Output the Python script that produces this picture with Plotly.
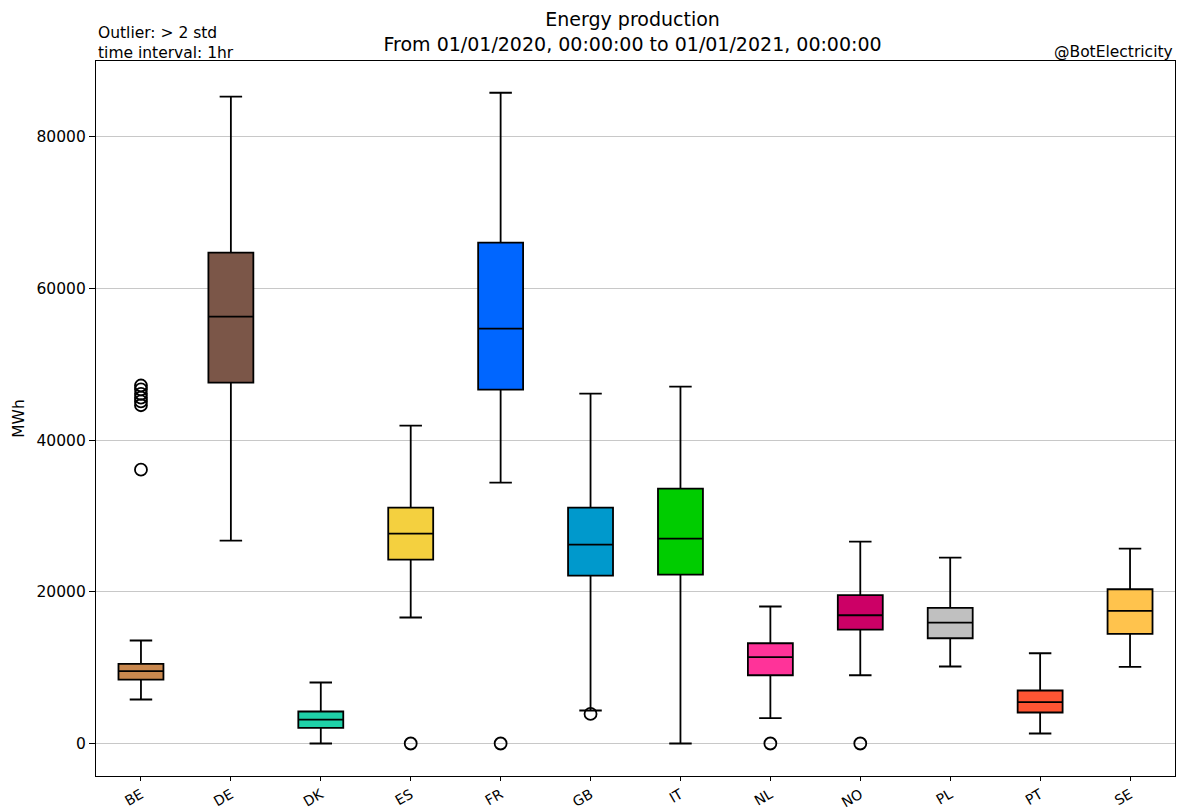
import plotly.graph_objects as go

countries = ["BE", "DE", "DK", "ES", "FR", "GB", "IT", "NL", "NO", "PL", "PT", "SE"]
q1 = [8430, 47580, 2070, 24250, 46660, 22140, 22270, 9000, 15020, 13880, 4090, 14460]
median = [9530, 56280, 3160, 27680, 54700, 26230, 27020, 11380, 16910, 15950, 5450, 17490]
q3 = [10500, 64710, 4220, 31100, 66030, 31100, 33610, 13220, 19550, 17890, 6990, 20340]
lower = [5800, 26760, 0, 16610, 34400, 4350, 0, 3340, 9000, 10150, 1320, 10110]
upper = [13580, 85280, 8040, 41910, 85800, 46130, 47050, 18060, 26620, 24520, 11900, 25700]
colors = ["#c9884e", "#7b5648", "#1fd1a8", "#f4d03f", "#0066ff", "#0099cc",
          "#00cc00", "#ff3399", "#cc0066", "#c0c0c0", "#ff5533", "#ffc34d"]

outlier_country = ["BE", "BE", "BE", "BE", "BE", "BE", "BE", "ES", "FR", "GB", "NL", "NO"]
outlier_value = [36100, 44600, 45100, 45600, 46100, 46700, 47200, 0, 0, 3900, 0, 0]

fig = go.Figure()
for i, c in enumerate(countries):
    fig.add_trace(go.Box(
        x=[c], q1=[q1[i]], median=[median[i]], q3=[q3[i]],
        lowerfence=[lower[i]], upperfence=[upper[i]],
        fillcolor=colors[i], line=dict(color="black", width=1.8),
        width=0.5, whiskerwidth=0.5, boxpoints=False, showlegend=False,
        hoverinfo="y"))

fig.add_trace(go.Scatter(
    x=outlier_country, y=outlier_value, mode="markers",
    marker=dict(symbol="circle-open", size=12, color="black", line=dict(width=1.8)),
    showlegend=False))

fig.update_layout(
    width=1178, height=810,
    margin=dict(l=96, r=3, t=61, b=34),
    paper_bgcolor="white", plot_bgcolor="white",
    font=dict(family="DejaVu Sans", size=15.5, color="black"),
    boxmode="overlay",
    title=dict(text="Energy production<br>From 01/01/2020, 00:00:00 to 01/01/2021, 00:00:00",
               x=0.537, xanchor="center", xref="container",
               y=1 - 26 / 810, yanchor="top", yref="container",
               font=dict(size=19)),
    xaxis=dict(type="category", categoryorder="array", categoryarray=countries,
               range=[-0.5, 11.5], showgrid=False, showline=True, mirror=True,
               linecolor="black", linewidth=1.2, ticks="outside", ticklen=4,
               tickcolor="black", tickangle=-30, zeroline=False, automargin=False,
               tickfont=dict(size=14)),
    yaxis=dict(range=[-4285, 89985], tickvals=[0, 20000, 40000, 60000, 80000],
               tickformat="d", showgrid=True, gridcolor="#c8c8c8", gridwidth=1.2,
               showline=True, mirror=True, linecolor="black", linewidth=1.2,
               ticks="outside", ticklen=6, tickcolor="black", zeroline=False,
               automargin=False, tickfont=dict(size=15.5),
               title=dict(text="MWh", standoff=8, font=dict(size=15.5))),
    annotations=[
        dict(text="Outlier: > 2 std<br>time interval: 1hr", xref="paper", yref="paper",
             x=0, y=1, xanchor="left", yanchor="bottom", align="left", yshift=-3,
             showarrow=False, font=dict(size=15.5)),
        dict(text="@BotElectricity", xref="paper", yref="paper",
             x=1, y=1, xanchor="right", yanchor="bottom", align="right", yshift=-2,
             showarrow=False, font=dict(size=15.5)),
    ],
)

fig.write_html("out.html", config={"displayModeBar": False},
               post_script="document.body.style.margin='0';document.body.style.overflow='hidden';")
